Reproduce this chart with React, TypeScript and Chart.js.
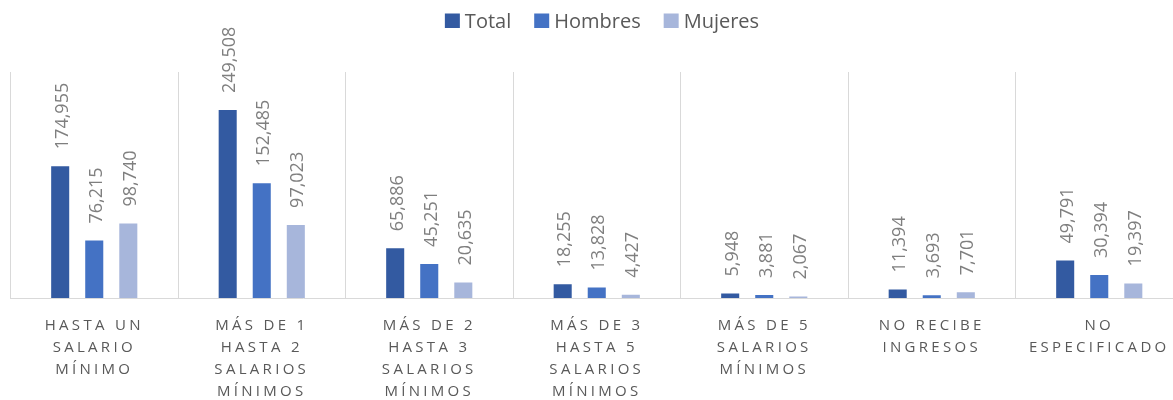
import React, { useEffect, useRef } from "react";
import { Chart, registerables } from "chart.js";

Chart.register(...registerables);

// ---- Data ----
const categories: string[][] = [
  ["HASTA UN", "SALARIO", "MÍNIMO"],
  ["MÁS DE 1", "HASTA 2", "SALARIOS", "MÍNIMOS"],
  ["MÁS DE 2", "HASTA 3", "SALARIOS", "MÍNIMOS"],
  ["MÁS DE 3", "HASTA 5", "SALARIOS", "MÍNIMOS"],
  ["MÁS DE 5", "SALARIOS", "MÍNIMOS"],
  ["NO RECIBE", "INGRESOS"],
  ["NO", "ESPECIFICADO"],
];

const seriesNames: string[] = ["Total", "Hombres", "Mujeres"];

const totalValues: number[] = [174955, 249508, 65886, 18255, 5948, 11394, 49791];
const hombresValues: number[] = [76215, 152485, 45251, 13828, 3881, 3693, 30394];
const mujeresValues: number[] = [98740, 97023, 20635, 4427, 2067, 7701, 19397];

const seriesColors: string[] = ["#335AA1", "#4472C4", "#A7B6DB"];

const yMin = 0;
const yMax = 300000;

const FONT = '"Open Sans", "Noto Sans", sans-serif';
const TEXT_COLOR = "#595959";
const LABEL_COLOR = "#7F7F7F";
const GRID_COLOR = "#D9D9D9";

// ---- Plugins ----
const customLegend = {
  id: "customLegend",
  afterDraw(chart: any) {
    const ctx = chart.ctx as CanvasRenderingContext2D;
    ctx.save();
    ctx.font = `20px ${FONT}`;
    const box = 15;
    const gap = 5;
    const itemGap = 23;
    const items = chart.data.datasets.map((ds: any) => ({
      label: ds.label as string,
      color: ds.backgroundColor as string,
      w: box + gap + ctx.measureText(ds.label).width,
    }));
    const totalW =
      items.reduce((s: number, it: any) => s + it.w, 0) + itemGap * (items.length - 1);
    let x = chart.width / 2 - totalW / 2;
    const baseline = 28;
    ctx.textAlign = "left";
    ctx.textBaseline = "alphabetic";
    for (const it of items) {
      ctx.fillStyle = it.color;
      ctx.fillRect(x, baseline - 14.5, box, 14.5);
      ctx.fillStyle = TEXT_COLOR;
      ctx.fillText(it.label, x + box + gap, baseline);
      x += it.w + itemGap;
    }
    ctx.restore();
  },
};

const barValueLabels = {
  id: "barValueLabels",
  afterDatasetsDraw(chart: any) {
    const ctx = chart.ctx as CanvasRenderingContext2D;
    ctx.save();
    ctx.font = `18px ${FONT}`;
    ctx.fillStyle = LABEL_COLOR;
    ctx.textAlign = "left";
    ctx.textBaseline = "alphabetic";
    chart.data.datasets.forEach((ds: any, di: number) => {
      const meta = chart.getDatasetMeta(di);
      meta.data.forEach((el: any, i: number) => {
        const v = ds.data[i] as number;
        const txt = v.toLocaleString("en-US");
        ctx.save();
        ctx.translate(el.x, el.y - 17);
        ctx.rotate(-Math.PI / 2);
        ctx.fillText(txt, 0, 7.5);
        ctx.restore();
      });
    });
    ctx.restore();
  },
};

const categoryLabels = {
  id: "categoryLabels",
  afterDraw(chart: any) {
    const ctx = chart.ctx as CanvasRenderingContext2D;
    const xs = chart.scales.x;
    const bottom = chart.chartArea.bottom;
    ctx.save();
    ctx.font = `15px ${FONT}`;
    (ctx as any).letterSpacing = "3.3px";
    ctx.fillStyle = TEXT_COLOR;
    ctx.textAlign = "center";
    ctx.textBaseline = "alphabetic";
    (chart.data.labels as string[][]).forEach((lines, i) => {
      const x = xs.getPixelForValue(i);
      lines.forEach((t, j) => {
        ctx.fillText(t, x, bottom + 31.5 + 22 * j);
      });
    });
    ctx.restore();
  },
};

export default function App() {
  const canvasRef = useRef<HTMLCanvasElement | null>(null);

  useEffect(() => {
    if (!canvasRef.current) return;
    const seriesData = [totalValues, hombresValues, mujeresValues];
    const chart = new Chart(canvasRef.current, {
      type: "bar",
      data: {
        labels: categories as any,
        datasets: seriesNames.map((name, k) => ({
          label: name,
          data: seriesData[k],
          backgroundColor: seriesColors[k],
          borderWidth: 0,
          categoryPercentage: 0.61,
          barPercentage: 0.53,
        })),
      },
      options: {
        responsive: true,
        maintainAspectRatio: false,
        animation: false,
        layout: { padding: { left: 10.5, right: 21, top: 72, bottom: 102 } },
        plugins: {
          legend: { display: false },
          tooltip: { enabled: false },
        },
        scales: {
          x: {
            grid: { offset: true, color: GRID_COLOR, lineWidth: 1, drawTicks: false },
            border: { color: GRID_COLOR, width: 1 },
            ticks: { display: false },
          },
          y: { display: false, min: yMin, max: yMax },
        },
      },
      plugins: [customLegend, barValueLabels, categoryLabels],
    });
    return () => chart.destroy();
  }, []);

  return (
    <div
      style={{
        position: "absolute",
        left: 0,
        top: 0,
        width: 1173,
        height: 400,
        overflow: "hidden",
        background: "#fff",
      }}
    >
      <div style={{ position: "relative", width: 1204, height: 400 }}>
        <canvas ref={canvasRef} />
      </div>
    </div>
  );
}
